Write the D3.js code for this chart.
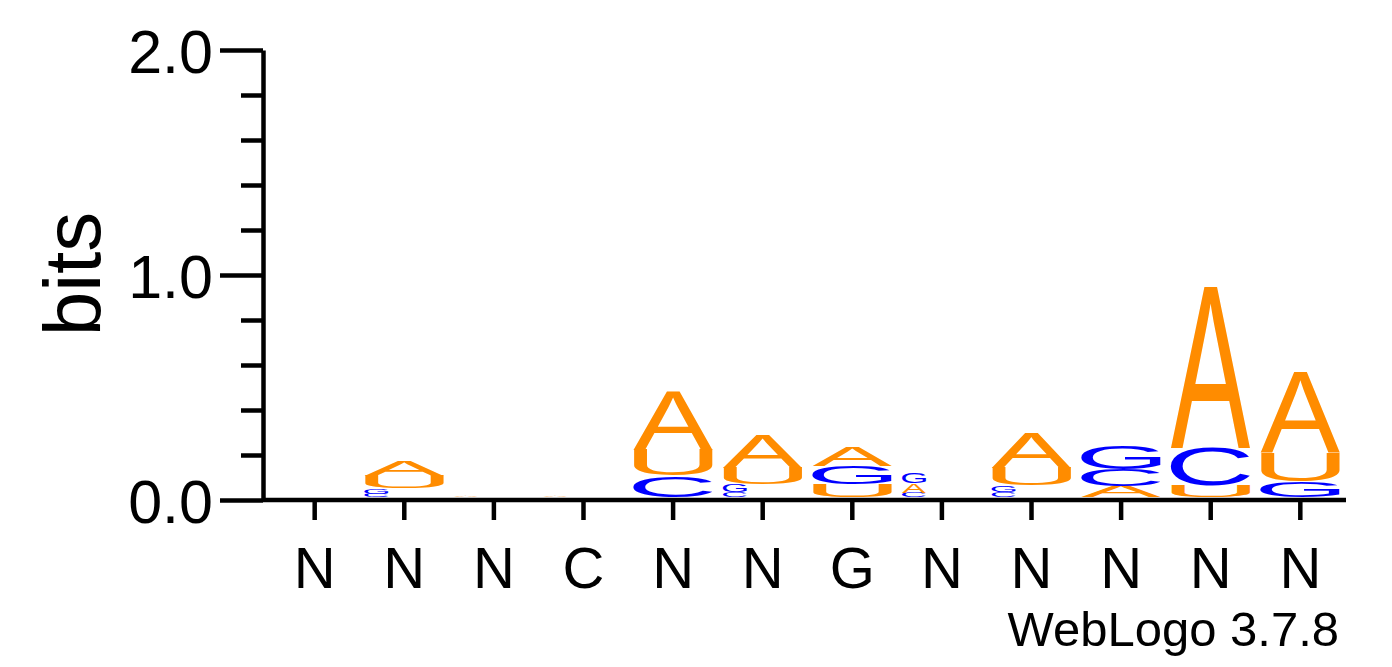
<!DOCTYPE html>
<html lang="en">
<head>
<meta charset="UTF-8">
<title>WebLogo</title>
<script src="https://cdn.jsdelivr.net/npm/d3@7/dist/d3.min.js"></script>
<style>
    body{margin:0;background:#fff;}
    svg text{font-family:"Liberation Sans",Arial,Helvetica,sans-serif;}
</style>
</head>
<body>
<div id="main"><svg></svg></div>
<script>
    var positions = ["N","N","N","C","N","N","G","N","N","N","N","N"];
    var bitsA = [0, 0.07, 0.006, 0.006, 0.26, 0.145, 0.085, 0.04, 0.155, 0.05, 0.72, 0.36];
    var bitsC = [0, 0.015, 0, 0, 0.095, 0.02, 0, 0.02, 0.02, 0.075, 0.17, 0];
    var bitsG = [0, 0.025, 0, 0, 0, 0.035, 0.08, 0.045, 0.03, 0.105, 0, 0.07];
    var bitsU = [0, 0.055, 0, 0, 0.115, 0.075, 0.058, 0, 0.08, 0, 0.05, 0.125];
    var yTicks = [0, 1, 2];
    var creditText = "WebLogo 3.7.8";

    var colors = {A:"#ff8c00", U:"#ff8c00", C:"#0000ff", G:"#0000ff"};
    var font = "'Liberation Sans', Arial, Helvetica, sans-serif";

    var width=1392,height=667;
    var svg = d3.select("#main").select("svg")
        .attr("width",width)
        .attr("height",height);

    var idx = d3.range(positions.length);
    var x = d3.scaleBand().domain(idx).range([265,1350]).paddingInner(0.109).paddingOuter(0.109);
    var y = d3.scaleLinear().domain([0,2]).range([500,50]);

    // canvas only used to measure the ink box of each glyph
    var ctx = document.createElement("canvas").getContext("2d");
    ctx.font = "100px " + font;
    var boxes = {};
    ["A","C","G","U"].forEach(function(ch){
        var m = ctx.measureText(ch);
        boxes[ch] = {l:m.actualBoundingBoxLeft, r:m.actualBoundingBoxRight,
                     a:m.actualBoundingBoxAscent, d:m.actualBoundingBoxDescent};
    });

    // stacks: smallest letter at the bottom
    var stacks = svg.append("g").attr("class","stacks");
    idx.forEach(function(i){
        var letters = [
            {ch:"A", v:bitsA[i]}, {ch:"C", v:bitsC[i]},
            {ch:"G", v:bitsG[i]}, {ch:"U", v:bitsU[i]}
        ].filter(function(d){ return d.v > 0; })
         .sort(function(a,b){ return a.v - b.v; });
        var acc = 0;
        letters.forEach(function(d){
            var yBot = y(acc) - 3;
            var yTop = y(acc + d.v) - 3;
            acc += d.v;
            var h = yBot - yTop;
            // very small glyphs come out narrow in the original render
            var w = h < 10.5 ? x.bandwidth()*0.3 : x.bandwidth();
            var b = boxes[d.ch];
            var sx = w/(b.l + b.r), sy = h/(b.a + b.d);
            stacks.append("text")
                .attr("x",0).attr("y",0)
                .attr("font-size",100)
                .attr("fill",colors[d.ch])
                .attr("transform","translate("+x(i)+","+yTop+") scale("+sx+","+sy+") translate("+b.l+","+b.a+")")
                .text(d.ch);
        });
    });

    // y axis, major + minor ticks
    var yAxis = svg.append("g").attr("transform","translate(263,0)")
        .call(d3.axisLeft(y).tickValues(yTicks).tickSize(43).tickSizeOuter(0)
            .tickPadding(7).tickFormat(d3.format(".1f")));
    var minor = d3.range(0,2.001,0.2).filter(function(v){ return Math.abs(v-Math.round(v))>0.01; });
    svg.append("g").attr("transform","translate(263,0)")
        .call(d3.axisLeft(y).tickValues(minor).tickSize(22).tickSizeOuter(0).tickFormat(""))
        .select(".domain").remove();
    yAxis.selectAll("text").attr("font-size",61).attr("font-family",font).attr("fill","#000").attr("dy","0.37em");

    // x axis
    var xAxis = svg.append("g").attr("transform","translate(0,500)")
        .call(d3.axisBottom(x).tickSize(20).tickSizeOuter(0)
            .tickFormat(function(i){ return positions[i]; }));
    xAxis.select(".domain").attr("d","M263,0H1346");
    xAxis.selectAll("text").attr("font-size",58).attr("font-family",font).attr("fill","#000")
        .attr("y",88).attr("dy",0);

    svg.selectAll(".domain, .tick line").attr("stroke","#000").attr("stroke-width",4.5);

    // y label
    svg.append("text")
        .attr("transform","translate(100,274) rotate(-90)")
        .attr("text-anchor","middle")
        .attr("font-size",80)
        .text("bits");

    svg.append("text")
        .attr("x",1339).attr("y",646)
        .attr("text-anchor","end")
        .attr("font-size",49)
        .text(creditText);
</script>
</body>
</html>
